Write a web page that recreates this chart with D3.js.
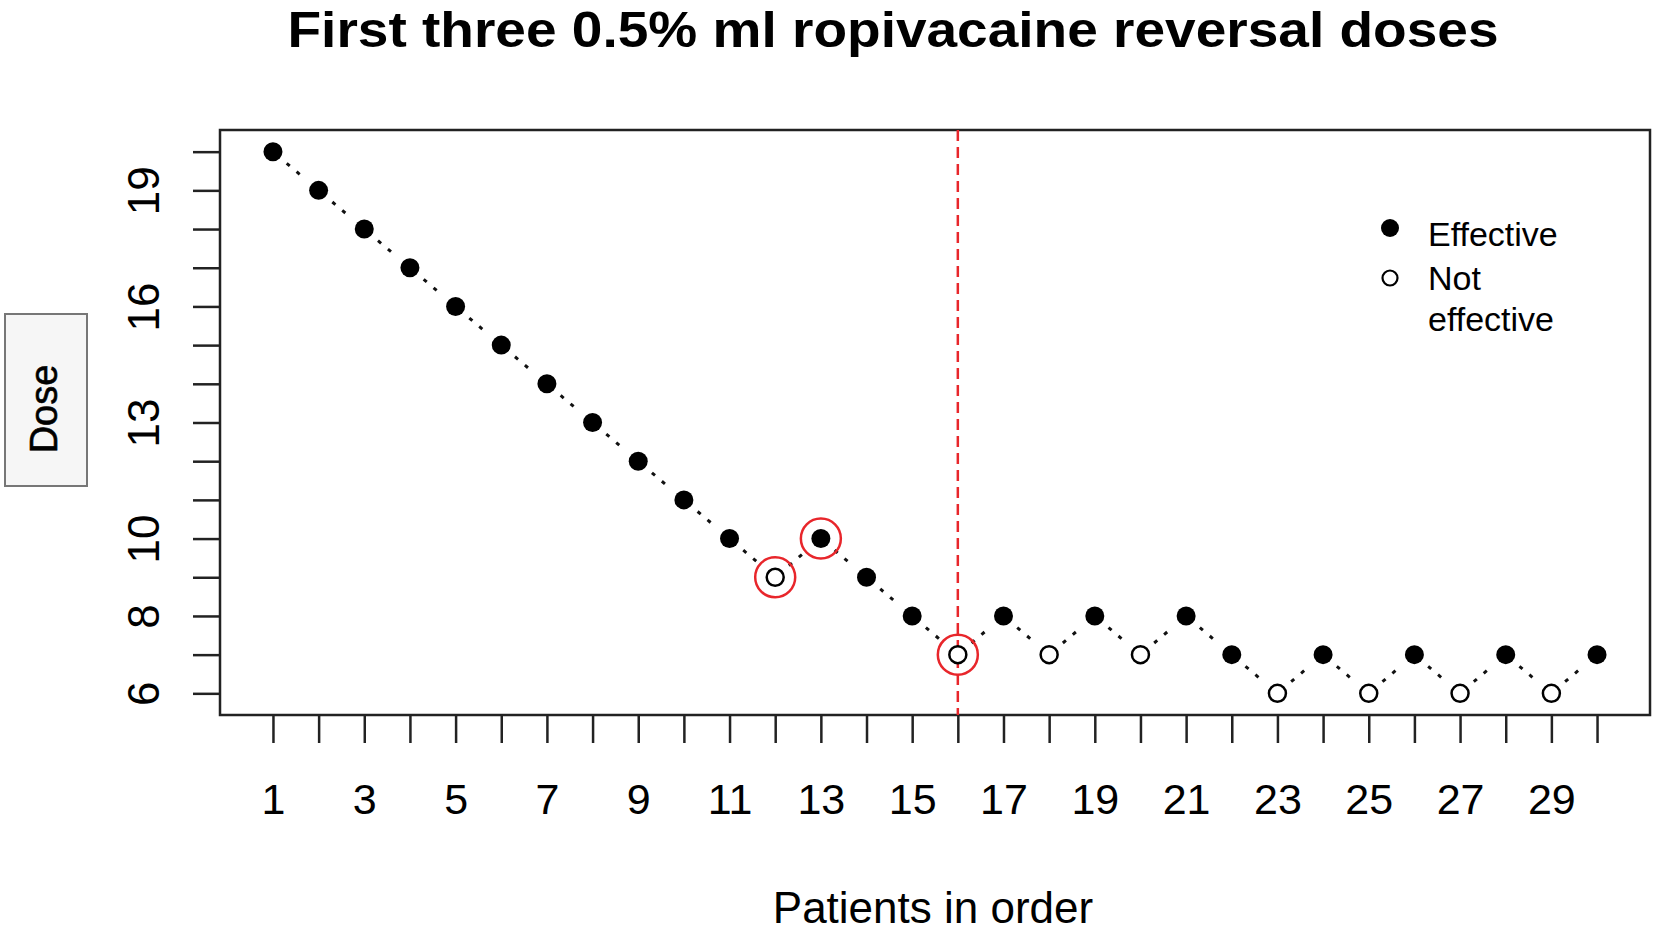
<!DOCTYPE html>
<html>
<head>
<meta charset="utf-8">
<script src="https://cdn.jsdelivr.net/npm/d3@7"></script>
<style>
  body { margin: 0; background: #fff; }
  text { font-family: "Liberation Sans", Arial, sans-serif; fill: #000; }
</style>
</head>
<body>
<svg id="chart"></svg>
<script>
// Up-and-down sequence: dose given to each patient and whether it worked.
const patients = d3.range(1, 31);
const doses = [20, 19, 18, 17, 16, 15, 14, 13, 12, 11, 10, 9, 10, 9, 8, 7, 8, 7, 8, 7, 8, 7, 6, 7, 6, 7, 6, 7, 6, 7];
const effective = [1, 1, 1, 1, 1, 1, 1, 1, 1, 1, 1, 0, 1, 1, 1, 0, 1, 0, 1, 0, 1, 1, 0, 1, 0, 1, 0, 1, 0, 1];
// reversal points circled in red
const reversals = [12, 13, 16];
const cutPatient = 16;

const yTicks = d3.range(6, 21);
const yLabels = [6, 8, 10, 13, 16, 19];
const xTicks = d3.range(1, 31);
const xLabels = d3.range(1, 30, 2);

const legendItems = [
    { label: ['Effective'], filled: true },
    { label: ['Not', 'effective'], filled: false },
];

const width = 1658;
const height = 931;
const plot = { left: 220, right: 1650, top: 130, bottom: 715 };

const svg = d3.select('#chart')
    .attr('width', width)
    .attr('height', height);

// R-style 4% padding on both axes
const x = d3.scaleLinear()
    .domain([1 - 29 * 0.04, 30 + 29 * 0.04])
    .range([plot.left, plot.right]);
const y = d3.scaleLinear()
    .domain([6 - 14 * 0.04, 20 + 14 * 0.04])
    .range([plot.bottom, plot.top]);

const points = patients.map((p, i) => ({ p, dose: doses[i], eff: effective[i] }));

// title
svg.append('text')
    .attr('x', 893)
    .attr('y', 47)
    .attr('text-anchor', 'middle')
    .attr('font-size', 50)
    .attr('font-weight', 'bold')
    .attr('textLength', 1211)
    .attr('lengthAdjust', 'spacingAndGlyphs')
    .text('First three 0.5% ml ropivacaine reversal doses');

// plot frame
svg.append('rect')
    .attr('x', plot.left)
    .attr('y', plot.top)
    .attr('width', plot.right - plot.left)
    .attr('height', plot.bottom - plot.top)
    .attr('fill', 'none')
    .attr('stroke', '#222')
    .attr('stroke-width', 2.5);

// y axis: ticks at every integer, labels only where R had room
const yAxis = d3.axisLeft(y)
    .tickValues(yTicks)
    .tickSize(27)
    .tickFormat(d => (yLabels.includes(d) ? d : ''));
const gy = svg.append('g')
    .attr('transform', `translate(${plot.left},0)`)
    .call(yAxis);
gy.select('.domain').remove();
gy.selectAll('.tick line').attr('stroke', '#222').attr('stroke-width', 2.5);
gy.selectAll('.tick text')
    .attr('font-size', 44)
    .attr('font-family', '"Liberation Sans", Arial, sans-serif')
    .attr('fill', '#000')
    .attr('text-anchor', 'middle')
    .attr('x', 0)
    .attr('dy', 0)
    .attr('transform', 'translate(-77,0) rotate(-90)')
    .attr('dominant-baseline', 'central');

const xAxis = d3.axisBottom(x)
    .tickValues(xTicks)
    .tickSize(28)
    .tickFormat(d => (xLabels.includes(d) ? d : ''));
const gx = svg.append('g')
    .attr('transform', `translate(0,${plot.bottom})`)
    .call(xAxis);
gx.select('.domain').remove();
gx.selectAll('.tick line').attr('stroke', '#222').attr('stroke-width', 2.5);
gx.selectAll('.tick text')
    .attr('font-size', 43)
    .attr('font-family', '"Liberation Sans", Arial, sans-serif')
    .attr('fill', '#000')
    .attr('y', 99)
    .attr('dy', 0);

// axis titles
svg.append('text')
    .attr('x', 933)
    .attr('y', 923)
    .attr('text-anchor', 'middle')
    .attr('font-size', 44)
    .text('Patients in order');

svg.append('rect')
    .attr('x', 5)
    .attr('y', 314)
    .attr('width', 82)
    .attr('height', 172)
    .attr('fill', '#f6f6f6')
    .attr('stroke', '#777')
    .attr('stroke-width', 2);
svg.append('text')
    .attr('transform', 'translate(44,409) rotate(-90)')
    .attr('text-anchor', 'middle')
    .attr('dominant-baseline', 'central')
    .attr('font-size', 38)
    .attr('stroke', '#000')
    .attr('stroke-width', 0.6)
    .text('Dose');

// cut-off line
svg.append('line')
    .attr('x1', x(cutPatient))
    .attr('x2', x(cutPatient))
    .attr('y1', plot.top)
    .attr('y2', plot.bottom)
    .attr('stroke', '#e8262b')
    .attr('stroke-width', 2.5)
    .attr('stroke-dasharray', '11,6');

// type="b" style connecting segments, broken around each point
const gap = 18;
const segs = d3.pairs(points).map(([a, b]) => {
    const x1 = x(a.p); const y1 = y(a.dose);
    const x2 = x(b.p); const y2 = y(b.dose);
    const len = Math.hypot(x2 - x1, y2 - y1);
    const ux = (x2 - x1) / len; const uy = (y2 - y1) / len;
    return { x1: x1 + ux * gap, y1: y1 + uy * gap, x2: x2 - ux * gap, y2: y2 - uy * gap };
});
svg.append('g').selectAll('line')
    .data(segs)
    .enter()
    .append('line')
    .attr('x1', d => d.x1)
    .attr('y1', d => d.y1)
    .attr('x2', d => d.x2)
    .attr('y2', d => d.y2)
    .attr('stroke', '#111')
    .attr('stroke-width', 3)
    .attr('stroke-dasharray', '4,9');

// points
svg.append('g').selectAll('circle')
    .data(points)
    .enter()
    .append('circle')
    .attr('cx', d => x(d.p))
    .attr('cy', d => y(d.dose))
    .attr('r', d => (d.eff ? 9.5 : 8.5))
    .attr('fill', d => (d.eff ? '#000' : '#fff'))
    .attr('stroke', '#000')
    .attr('stroke-width', d => (d.eff ? 0 : 2.5));

// red rings on the reversals
svg.append('g').selectAll('circle')
    .data(points.filter(d => reversals.includes(d.p)))
    .enter()
    .append('circle')
    .attr('cx', d => x(d.p))
    .attr('cy', d => y(d.dose))
    .attr('r', 20)
    .attr('fill', 'none')
    .attr('stroke', '#e8262b')
    .attr('stroke-width', 2.5);

// legend
const legend = svg.append('g').attr('transform', 'translate(1390,228)');
legendItems.forEach((item, i) => {
    const g = legend.append('g').attr('transform', `translate(0,${i * 50})`);
    g.append('circle')
        .attr('r', item.filled ? 9 : 7.5)
        .attr('fill', item.filled ? '#000' : '#fff')
        .attr('stroke', '#000')
        .attr('stroke-width', item.filled ? 0 : 2.2);
    item.label.forEach((t, j) => {
        g.append('text')
            .attr('x', 38)
            .attr('y', (i === 0 ? 6 : 0) + j * 41)
            .attr('dominant-baseline', 'central')
            .attr('font-size', 34)
            .text(t);
    });
});
</script>
</body>
</html>
